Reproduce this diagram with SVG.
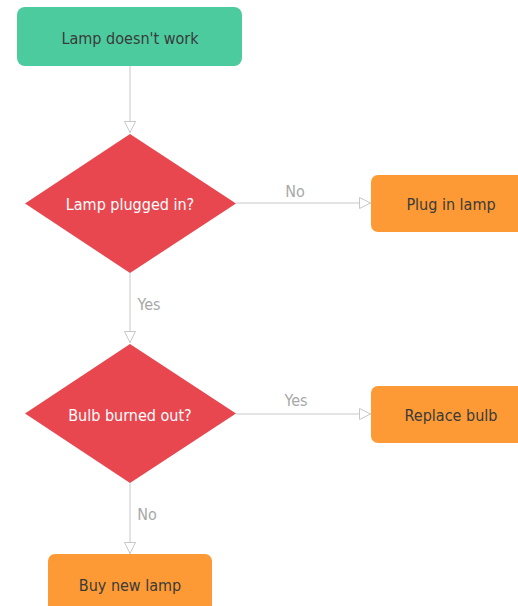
<svg xmlns="http://www.w3.org/2000/svg" width="518" height="606" viewBox="0 0 518 606">
<style>
.edge{fill:none;stroke:#c8c8c8;stroke-width:1}
.lbl{font-family:"DejaVu Sans Condensed","DejaVu Sans",sans-serif;font-stretch:condensed;font-size:16px;fill:#a8a8a8;text-anchor:middle}
.t{font-family:"DejaVu Sans Condensed","DejaVu Sans",sans-serif;font-stretch:condensed;font-size:16px;text-anchor:middle;dominant-baseline:central}
.dark{fill:#3a3a3a}
.white{fill:#ffffff}
</style>
<defs>
<marker id="arr" viewBox="0 0 12 12" refX="12" refY="6" markerWidth="12" markerHeight="12" markerUnits="userSpaceOnUse" orient="auto">
<path d="M0.5,0.5 L11.5,6 L0.5,11.5 Z" fill="#ffffff" stroke="#c8c8c8" stroke-width="1"/>
</marker>
</defs>
<rect width="518" height="606" fill="#ffffff"/>
<g id="connectors">
<path class="edge" d="M130,66 V133" marker-end="url(#arr)"/>
<path class="edge" d="M236,203 H371" marker-end="url(#arr)"/>
<path class="edge" d="M130,273 V343" marker-end="url(#arr)"/>
<path class="edge" d="M236,414 H371" marker-end="url(#arr)"/>
<path class="edge" d="M130,483 V554" marker-end="url(#arr)"/>
<text class="lbl" x="295" y="197">No</text>
<text class="lbl" x="149" y="310">Yes</text>
<text class="lbl" x="296" y="406">Yes</text>
<text class="lbl" x="147" y="520">No</text>
</g>
<g id="start">
<rect x="17" y="7" width="225" height="59" rx="8" fill="#4ccb9f"/>
<text class="t dark" x="130" y="38">Lamp doesn't work</text>
</g>
<g id="decision1">
<polygon points="130,134 236,203.5 130,273 25,203.5" fill="#e8474f"/>
<text class="t white" x="130" y="204">Lamp plugged in?</text>
</g>
<g id="plug">
<rect x="371" y="175" width="160" height="57" rx="7" fill="#fd9a35"/>
<text class="t dark" x="451" y="204">Plug in lamp</text>
</g>
<g id="decision2">
<polygon points="130,344 236,413.5 130,483 25,413.5" fill="#e8474f"/>
<text class="t white" x="130" y="415">Bulb burned out?</text>
</g>
<g id="replace">
<rect x="371" y="386" width="160" height="57" rx="7" fill="#fd9a35"/>
<text class="t dark" x="451" y="415">Replace bulb</text>
</g>
<g id="buy">
<rect x="48" y="554" width="164" height="60" rx="7" fill="#fd9a35"/>
<text class="t dark" x="130" y="585">Buy new lamp</text>
</g>
</svg>
